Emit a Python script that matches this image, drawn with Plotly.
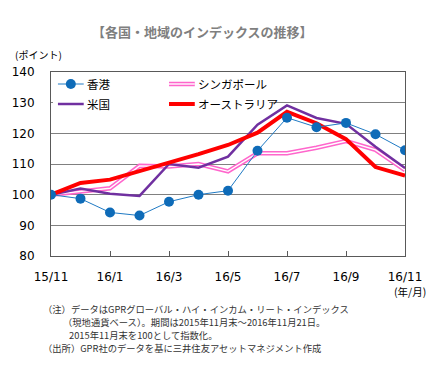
import plotly.graph_objects as go

months = ["15/11", "15/12", "16/1", "16/2", "16/3", "16/4", "16/5",
          "16/6", "16/7", "16/8", "16/9", "16/10", "16/11"]
tick_labels = ["15/11", "16/1", "16/3", "16/5", "16/7", "16/9", "16/11"]

hong_kong = [100, 98.7, 94.2, 93.2, 97.7, 100.0, 101.3, 114.3, 125.1, 122.0, 123.4, 119.7, 114.5]
singapore = [100, 101.0, 102.1, 109.4, 109.2, 110.0, 107.6, 113.5, 113.5, 115.3, 117.5, 114.6, 108.0]
usa = [100, 102.0, 100.3, 99.6, 110.0, 108.8, 112.4, 122.8, 129.1, 125.0, 123.1, 115.6, 108.7]
australia = [100, 103.8, 104.9, 107.6, 110.3, 113.2, 116.2, 120.2, 127.0, 123.3, 118.1, 109.0, 106.2]

names = ["香港", "シンガポール", "米国", "オーストラリア"]

W, H = 446, 368
L, R, T, B = 48, 405, 72, 256

JP = "Noto Sans CJK JP"
NUM = "DejaVu Sans"

fig = go.Figure()
fig.add_trace(go.Scatter(x=months, y=singapore, mode="lines",
                         line=dict(color="#FF66CC", width=4.5), showlegend=False))
fig.add_trace(go.Scatter(x=months, y=singapore, mode="lines",
                         line=dict(color="#FFFFFF", width=1.4), showlegend=False))
fig.add_trace(go.Scatter(x=months, y=usa, mode="lines",
                         line=dict(color="#7030A0", width=2.5), showlegend=False))
fig.add_trace(go.Scatter(x=months, y=australia, mode="lines",
                         line=dict(color="#FF0000", width=4), showlegend=False))
fig.add_trace(go.Scatter(x=months, y=hong_kong, mode="lines+markers",
                         line=dict(color="#1F7AC4", width=1),
                         marker=dict(color="#0E6BB8", size=10, line=dict(width=0)),
                         showlegend=False))


def px(x):
    return (x - L) / (R - L)


def py(y):
    return (B - y) / (B - T)


shapes = []
annotations = []
# legend background covering the gridline
shapes.append(dict(type="rect", xref="paper", yref="paper", layer="above",
                   x0=px(50), x1=px(268), y0=py(114), y1=py(74),
                   fillcolor="white", line=dict(width=0)))
legend_items = [
    (names[0], 55, 84, "hk"),
    (names[1], 167, 84, "sg"),
    (names[2], 55, 104, "us"),
    (names[3], 167, 104, "au"),
]
for label, x0, y0, kind in legend_items:
    x1 = x0 + 26
    if kind == "hk":
        shapes.append(dict(type="line", xref="paper", yref="paper", layer="above",
                           x0=px(x0), x1=px(x1), y0=py(y0), y1=py(y0),
                           line=dict(color="#1F7AC4", width=1)))
        shapes.append(dict(type="circle", xref="paper", yref="paper", layer="above",
                           xsizemode="pixel", ysizemode="pixel",
                           xanchor=px((x0 + x1) / 2), yanchor=py(y0),
                           x0=-5, x1=5, y0=-5, y1=5,
                           fillcolor="#0E6BB8", line=dict(width=0)))
    elif kind == "sg":
        shapes.append(dict(type="line", xref="paper", yref="paper", layer="above",
                           x0=px(x0), x1=px(x1), y0=py(y0), y1=py(y0),
                           line=dict(color="#FF66CC", width=4.5)))
        shapes.append(dict(type="line", xref="paper", yref="paper", layer="above",
                           x0=px(x0), x1=px(x1), y0=py(y0), y1=py(y0),
                           line=dict(color="#FFFFFF", width=1.4)))
    elif kind == "us":
        shapes.append(dict(type="line", xref="paper", yref="paper", layer="above",
                           x0=px(x0), x1=px(x1), y0=py(y0), y1=py(y0),
                           line=dict(color="#7030A0", width=2.5)))
    else:
        shapes.append(dict(type="line", xref="paper", yref="paper", layer="above",
                           x0=px(x0), x1=px(x1), y0=py(y0), y1=py(y0),
                           line=dict(color="#FF0000", width=4)))
    annotations.append(dict(text=label, xref="paper", yref="paper",
                            x=px(x1 + 2), y=py(y0), xanchor="left", yanchor="middle",
                            showarrow=False, borderpad=0,
                            font=dict(family=JP, size=11.5, color="#000000")))

annotations.append(dict(text="<b>【各国・地域のインデックスの推移】</b>", xref="paper", yref="paper",
                        x=px(201), y=py(31), xanchor="center", yanchor="middle",
                        showarrow=False, font=dict(family=JP, size=13, color="#7F7F7F")))
annotations.append(dict(text="(ポイント)", xref="paper", yref="paper",
                        x=px(10), y=py(54), xanchor="left", yanchor="middle",
                        showarrow=False, font=dict(family=JP, size=10, color="#000000")))
annotations.append(dict(text="(年/月)", xref="paper", yref="paper",
                        x=px(428), y=py(291), xanchor="right", yanchor="middle",
                        showarrow=False, font=dict(family=JP, size=10.5, color="#000000")))
notes = [
    ("（注）データはGPRグローバル・ハイ・インカム・リート・インデックス", 39, 309),
    ("（現地通貨ベース）。期間は2015年11月末～2016年11月21日。", 59, 322),
    ("2015年11月末を100として指数化。", 65, 335),
    ("（出所）GPR社のデータを基に三井住友アセットマネジメント作成", 39, 348),
]
for txt, x0, y0 in notes:
    annotations.append(dict(text=txt, xref="paper", yref="paper",
                            x=px(x0), y=py(y0), xanchor="left", yanchor="middle",
                            showarrow=False, borderpad=0,
                            font=dict(family=JP, size=9.3, color="#333333")))

fig.update_layout(
    width=W, height=H,
    margin=dict(l=L, r=W - R, t=T, b=H - B, pad=0),
    paper_bgcolor="white", plot_bgcolor="white",
    shapes=shapes, annotations=annotations,
    showlegend=False,
)
fig.update_xaxes(
    type="category", range=[0, 12],
    tickmode="array", tickvals=tick_labels, ticktext=tick_labels,
    ticks="inside", ticklen=5, tickcolor="#595959", tickwidth=1,
    showgrid=False, showline=True, linecolor="#595959", linewidth=1, mirror=True,
    tickfont=dict(family=NUM, size=12, color="#000000"),
    ticklabelstandoff=10, zeroline=False,
)
fig.update_yaxes(
    range=[80, 140], tickmode="array", tickvals=[80, 90, 100, 110, 120, 130, 140],
    ticks="", showgrid=True, gridcolor="#808080", gridwidth=1,
    showline=True, linecolor="#595959", linewidth=1, mirror=True,
    tickfont=dict(family=NUM, size=12, color="#000000"),
    ticklabelstandoff=13, zeroline=False,
)

fig.write_html("out.html", config={"displayModeBar": False},
               post_script="document.body.style.margin='0px';")
